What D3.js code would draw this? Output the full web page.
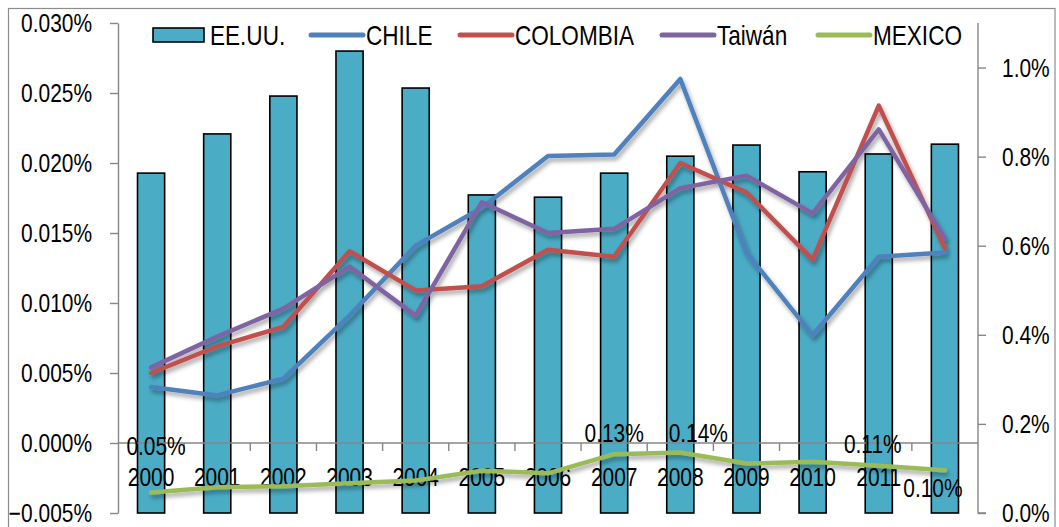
<!DOCTYPE html>
<html><head><meta charset="utf-8">
<script src="https://cdn.jsdelivr.net/npm/d3@7"></script>
<style>body{margin:0;background:#fff} svg{display:block}</style>
</head><body><svg id="c" width="1059" height="527"></svg>
<script>
// ---- data ----
const categories = ["2000","2001","2002","2003","2004","2005","2006","2007","2008","2009","2010","2011","2012"];
const xTickLabels = ["2000","2001","2002","2003","2004","2005","2006","2007","2008","2009","2010","2011",""];
const eeuu     = [0.763,0.851,0.936,1.037,0.954,0.714,0.709,0.763,0.801,0.826,0.766,0.806,0.828];   // right axis (%)
const chile    = [0.0040,0.0034,0.0046,0.0091,0.0141,0.0168,0.0205,0.0206,0.0260,0.0136,0.0077,0.0133,0.0136]; // left axis (%)
const colombia = [0.0050,0.0069,0.0083,0.0137,0.0109,0.0112,0.0138,0.0133,0.0200,0.0179,0.0131,0.0241,0.0139];
const taiwan   = [0.0054,0.0076,0.0096,0.0126,0.0091,0.0172,0.0150,0.0153,0.0182,0.0191,0.0164,0.0224,0.0146];
const mexico   = [0.046,0.058,0.060,0.067,0.073,0.095,0.089,0.132,0.136,0.111,0.115,0.106,0.096]; // right axis (%)
const leftTicks  = [-0.005,0.000,0.005,0.010,0.015,0.020,0.025,0.030];
const rightTicks = [0.0,0.2,0.4,0.6,0.8,1.0];
const mexicoLabelIdx = [0,7,8,11,12];
const seriesNames = ["EE.UU.","CHILE","COLOMBIA","Taiwán","MEXICO"];
const colors = {"EE.UU.":"#4BACC6","CHILE":"#4F81BD","COLOMBIA":"#C0504D","Taiwán":"#8064A2","MEXICO":"#9BBB59"};

// ---- layout ----
const svg = d3.select("#c");
const FS = 25.5, FS_LEG = 27.5;
const narrowFam = "'Liberation Sans Narrow'";
let useNarrow = (function(){
  const t = svg.append("text").attr("font-family",narrowFam+",'DejaVu Sans'").attr("font-size",100).text("COLOMBIA");
  const w1 = t.node().getComputedTextLength();
  t.attr("font-family","'Liberation Sans'"); const w2 = t.node().getComputedTextLength(); t.remove();
  return w1 < w2*0.9;
})();
const FONT = useNarrow ? narrowFam+",'Liberation Sans',sans-serif" : "'Liberation Sans',Arial,sans-serif";
function styleText(sel, fs){
  sel.attr("font-family",FONT).attr("font-size",fs||FS).attr("fill","#000");
  if(!useNarrow){
    sel.each(function(){ const w=this.getComputedTextLength(); if(w>0){ d3.select(this).attr("textLength",w*0.82).attr("lengthAdjust","spacingAndGlyphs"); } });
  }
  return sel;
}

const x0 = 118, x1 = 978, yTop = 23, yBot = 513;
const x = d3.scaleBand().domain(categories).range([x0,x1]).paddingInner(0.59).paddingOuter(0.295);
const xc = d => x(d) + x.bandwidth()/2;
const yL = d3.scaleLinear().domain([-0.005,0.030]).range([yBot,yTop]);
const yR = d3.scaleLinear().domain([0,1.1]).range([yBot,yTop]);

const defs = svg.append("defs");
const f = defs.append("filter").attr("id","sh").attr("x","-10%").attr("y","-20%").attr("width","120%").attr("height","140%");
f.append("feDropShadow").attr("dx",2).attr("dy",3.5).attr("stdDeviation",2.2).attr("flood-color","#000").attr("flood-opacity",0.35);

// outer border
svg.append("rect").attr("x",8.5).attr("y",8.5).attr("width",1046.5).attr("height",540).attr("fill","none").attr("stroke","#8c8c8c").attr("stroke-width",1.2);

// bars
svg.append("g").selectAll("rect").data(eeuu).join("rect")
  .attr("x",(d,i)=>x(categories[i])).attr("width",x.bandwidth())
  .attr("y",d=>yR(d)).attr("height",d=>yR(0)-yR(d))
  .attr("fill",colors["EE.UU."]).attr("stroke","#000").attr("stroke-width",1.6);

// left axis
const axL = svg.append("g").attr("transform",`translate(${x0},0)`)
  .call(d3.axisLeft(yL).tickValues(leftTicks).tickSize(8).tickSizeOuter(0).tickPadding(18).tickFormat(d=>d3.format(".3f")(d)+"%"));
axL.select(".domain").attr("stroke","#868686").attr("stroke-width",1.4);
axL.selectAll(".tick line").attr("stroke","#868686").attr("stroke-width",1.4);
styleText(axL.selectAll(".tick text").attr("dy","0.35em"));

// right axis
const axR = svg.append("g").attr("transform",`translate(${x1},0)`)
  .call(d3.axisRight(yR).tickValues(rightTicks).tickSize(8).tickSizeOuter(0).tickPadding(16).tickFormat(d=>d3.format(".1f")(d)+"%"));
axR.select(".domain").attr("stroke","#868686").attr("stroke-width",1.4).attr("d",`M0,${yTop}V${yBot}H8`);
axR.selectAll(".tick line").attr("stroke","#868686").attr("stroke-width",1.4);
styleText(axR.selectAll(".tick text").attr("dy","0.35em"));

// category axis at left-axis zero
const yZero = yL(0);
const gx = svg.append("g");
gx.append("line").attr("x1",x0).attr("x2",x1).attr("y1",yZero).attr("y2",yZero).attr("stroke","#868686").attr("stroke-width",1.4);
const step = x.step();
gx.selectAll("line.tk").data(d3.range(1,categories.length)).join("line").attr("class","tk")
  .attr("x1",i=>x(categories[i])-x.paddingInner()*step/2).attr("x2",i=>x(categories[i])-x.paddingInner()*step/2)
  .attr("y1",yZero).attr("y2",yZero+8).attr("stroke","#868686").attr("stroke-width",1.4);
styleText(gx.selectAll("text").data(xTickLabels).join("text")
  .attr("x",(d,i)=>xc(categories[i])).attr("y",yZero+34).attr("dy","0.35em").attr("text-anchor","middle").text(d=>d));

// lines
const lineL = d3.line().x((d,i)=>xc(categories[i])).y(d=>yL(d));
const lineR = d3.line().x((d,i)=>xc(categories[i])).y(d=>yR(d));
const lg = svg.append("g").attr("filter","url(#sh)");
[["CHILE",chile,lineL],["COLOMBIA",colombia,lineL],["Taiwán",taiwan,lineL],["MEXICO",mexico,lineR]].forEach(([n,v,l])=>{
  lg.append("path").attr("d",l(v)).attr("fill","none").attr("stroke",colors[n]).attr("stroke-width",4.5)
    .attr("stroke-linejoin","round").attr("stroke-linecap","round");
});

// data labels for MEXICO
const labelOffsets = {0:[5,-46],7:[0,-21],8:[18,-19],11:[-6,-22],12:[-12,18]};
styleText(svg.append("g").selectAll("text").data(mexicoLabelIdx).join("text")
  .attr("x",i=>xc(categories[i])+labelOffsets[i][0]).attr("y",i=>yR(mexico[i])+labelOffsets[i][1])
  .attr("dy","0.35em").attr("text-anchor","middle").text(i=>d3.format(".2f")(mexico[i])+"%"));

// legend
const legendX = [153,309,458,660,816];
const lgd = svg.append("g");
seriesNames.forEach((n,i)=>{
  const lx = legendX[i], ly = 35;
  if(i===0){
    lgd.append("rect").attr("x",lx).attr("y",ly-7).attr("width",51).attr("height",14).attr("fill",colors[n]).attr("stroke","#000").attr("stroke-width",1.6);
  } else {
    lgd.append("line").attr("x1",lx+2).attr("x2",lx+54).attr("y1",ly).attr("y2",ly).attr("stroke",colors[n]).attr("stroke-width",5).attr("stroke-linecap","round");
  }
  styleText(lgd.append("text").attr("x",lx+57).attr("y",ly).attr("dy","0.35em").text(n), FS_LEG);
});
</script></body></html>
